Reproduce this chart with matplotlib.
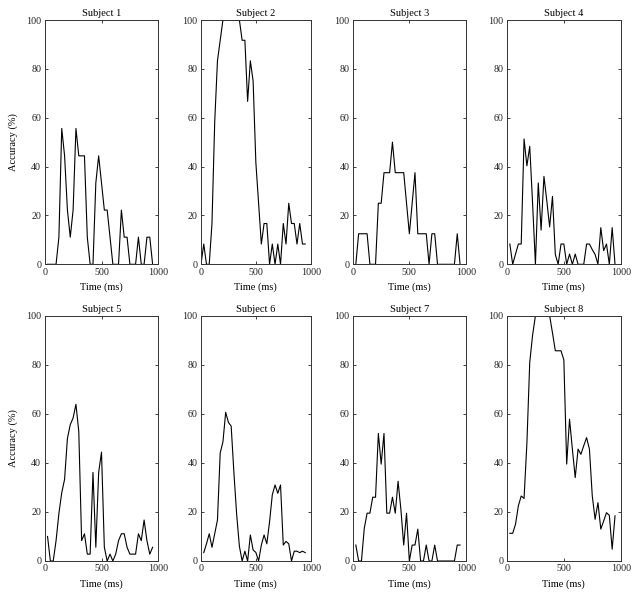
import numpy as np
import matplotlib
matplotlib.use("Agg")
import matplotlib.pyplot as plt

nan = np.nan
time_ms = np.arange(0, 951, 25)

subject_titles = ["Subject 1", "Subject 2", "Subject 3", "Subject 4",
                  "Subject 5", "Subject 6", "Subject 7", "Subject 8"]

s1 = [nan, 0, 0, 0, 0, 11.1, 55.6, 44.4, 22.2, 11.1, 22.2, 55.6, 44.4, 44.4, 44.4, 11.1, 0, 0, 33.3,
      44.4, 33.3, 22.2, 22.2, 11.1, 0, 0, 0, 22.2, 11.1, 11.1, 0, 0, 0, 11.1, 0, 0, 11.1, 11.1, 0]
s2 = [0, 8.3, 0, 0, 16.7, 58.3, 83.3, 91.7, 100, 100, 100, 100, 100, 100, 100, 91.7, 91.7, 66.7, 83.3,
      75, 41.7, 25, 8.3, 16.7, 16.7, 0, 8.3, 0, 8.3, 0, 16.7, 8.3, 25, 16.7, 16.7, 8.3, 16.7, 8.3, 8.3]
s3 = [nan, 0, 12.5, 12.5, 12.5, 12.5, 0, 0, 0, 25, 25, 37.5, 37.5, 37.5, 50, 37.5, 37.5, 37.5, 37.5,
      25, 12.5, 25, 37.5, 12.5, 12.5, 12.5, 12.5, 0, 12.5, 12.5, 0, 0, 0, 0, 0, 0, 0, 12.5, 0]
s4 = [nan, 8.3, 0, 4.2, 8.3, 8.3, 51.3, 40.3, 48.3, 25, 0, 33.3, 14, 36, 26, 15.3, 27.8, 4, 0,
      8.3, 8.3, 0, 4.2, 0, 4.2, 0, 0, 0, 8.3, 8.3, 6, 4, 0, 15, 5.6, 8.3, 0, 15, 0]
s5 = [nan, 10, 0, 0, 8.3, 19.4, 27.8, 33.3, 50, 55.6, 58.3, 63.9, 52.8, 8.3, 11.1, 2.8, 2.8, 36.1, 5.6,
      36.1, 44.4, 5.6, 0, 2.8, 0, 2.8, 8.3, 11.1, 11.1, 5.6, 2.8, 2.8, 2.8, 11.1, 8.3, 16.7, 8.3, 2.8, 5.6]
s6 = [nan, 3.4, 7, 11.1, 5.6, 11.1, 16.7, 44, 48.6, 60.6, 56.5, 55, 36, 19, 6, 0, 4, 0, 10.6,
      4.5, 3.5, 0, 6.5, 10.6, 7, 16, 27, 31, 27.6, 31, 6.5, 8, 7, 0, 4, 4, 3.4, 4, 3.4]
s7 = [nan, 6.5, 0, 0, 13.3, 19.5, 19.5, 26, 26, 52, 39.5, 52, 19.5, 19.5, 26, 19.5, 32.5, 21, 6.5,
      19.5, 0, 6.5, 6.5, 13, 0, 0, 6.5, 0, 0, 6.5, 0, 0, 0, 0, 0, 0, 0, 6.5, 6.5]
s8 = [nan, 11.3, 11.3, 15, 22.5, 26.5, 25.5, 48, 81, 92, 100, 100, 100, 100, 100, 100, 93, 85.7, 85.7,
      85.7, 82, 39.5, 57.8, 45.6, 34, 45.6, 43.5, 47, 50.3, 45.6, 26.5, 17, 23.8, 13, 16.3, 19.7, 18.6, 4.8, 18.4]

series = [s1, s2, s3, s4, s5, s6, s7, s8]
x_ticks = [0, 500, 1000]
y_ticks = [0, 20, 40, 60, 80, 100]

plt.rcParams['font.family'] = ['Liberation Serif', 'DejaVu Serif']
plt.rcParams['font.size'] = 7.2

W, H = 637, 601
fig = plt.figure(figsize=(W / 100, H / 100), dpi=100)

col_px = [(44.7, 158.3), (201, 310.7), (353, 465.7), (507, 620.7)]
row_px = [(20, 264.3), (315.7, 561)]

for i, vals in enumerate(series):
    r, c = divmod(i, 4)
    x0, x1 = col_px[c]
    y0, y1 = row_px[r]
    ax = fig.add_axes([x0 / W, 1 - y1 / H, (x1 - x0) / W, (y1 - y0) / H])
    ax.plot(time_ms, vals, color='black', lw=0.8)
    ax.set_xlim(0, 1000)
    ax.set_ylim(0, 100)
    ax.set_xticks(x_ticks)
    ax.set_yticks(y_ticks)
    ax.tick_params(direction='in', length=2.5, width=0.6, top=True, right=True,
                   labelsize=7.2, pad=2.5, colors='#222222')
    for sp in ax.spines.values():
        sp.set_linewidth(0.7)
        sp.set_color('#333333')
    ax.set_title(subject_titles[i], fontsize=7.5, pad=3)
    ax.set_xlabel('Time (ms)', fontsize=7.5, labelpad=4)
    if c == 0:
        ax.set_ylabel('Accuracy (%)', fontsize=7.5, labelpad=6)

fig.savefig('out.png', dpi=100)
